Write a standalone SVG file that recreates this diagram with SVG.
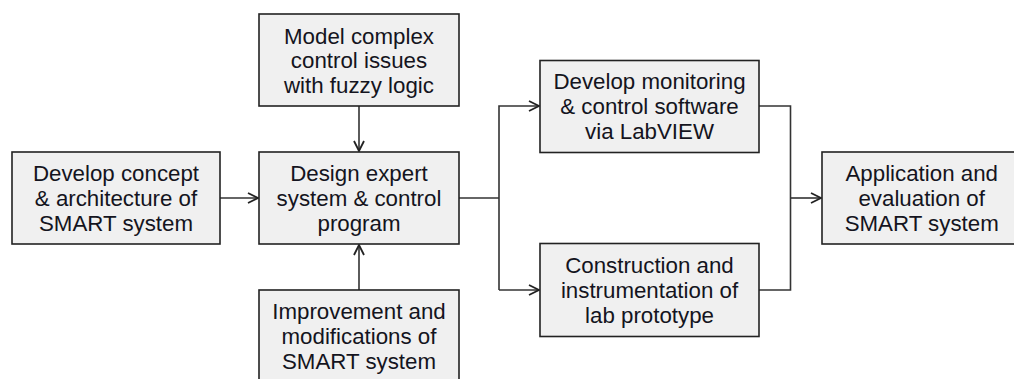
<svg xmlns="http://www.w3.org/2000/svg" width="1014" height="379" viewBox="0 0 1014 379">
  <style>
    .box { fill: #f0f0f0; stroke: #222; stroke-width: 1.6; }
    .lbl { font-family: "Liberation Sans", Arial, sans-serif; font-size: 22.3px; fill: #141420; text-anchor: middle; }
    .wire { fill: none; stroke: #333; stroke-width: 1.6; }
  </style>
  <defs>
    <marker id="arrow" viewBox="0 0 12 12" refX="11" refY="6" markerWidth="12" markerHeight="12" markerUnits="userSpaceOnUse" orient="auto">
      <path d="M1,1 L11,6 L1,11" fill="none" stroke="#222" stroke-width="1.8"/>
    </marker>
  </defs>
  <rect width="1014" height="379" fill="#ffffff"/>

  <g id="connectors">
    <path class="wire" d="M220,198 H258" marker-end="url(#arrow)"/>
    <path class="wire" d="M359,106 V151" marker-end="url(#arrow)"/>
    <path class="wire" d="M359,290 V245" marker-end="url(#arrow)"/>
    <path class="wire" d="M459,198 H499"/>
    <path class="wire" d="M499,290 V106 H539" marker-end="url(#arrow)"/>
    <path class="wire" d="M499,290 H539" marker-end="url(#arrow)"/>
    <path class="wire" d="M759,106 H790.5 V290 H759"/>
    <path class="wire" d="M790.5,198 H821" marker-end="url(#arrow)"/>
  </g>

  <g id="node-concept">
    <rect class="box" x="12" y="152" width="208" height="92"/>
    <text class="lbl" x="116" y="181">Develop concept</text>
    <text class="lbl" x="116" y="206">&amp; architecture of</text>
    <text class="lbl" x="116" y="231">SMART system</text>
  </g>

  <g id="node-fuzzy">
    <rect class="box" x="259" y="14" width="200" height="92"/>
    <text class="lbl" x="359" y="43.5">Model complex</text>
    <text class="lbl" x="359" y="68">control issues</text>
    <text class="lbl" x="359" y="92.5">with fuzzy logic</text>
  </g>

  <g id="node-design">
    <rect class="box" x="259" y="152" width="200" height="92"/>
    <text class="lbl" x="359" y="181">Design expert</text>
    <text class="lbl" x="359" y="206">system &amp; control</text>
    <text class="lbl" x="359" y="231">program</text>
  </g>

  <g id="node-improve">
    <rect class="box" x="259" y="290" width="200" height="100"/>
    <text class="lbl" x="359" y="319">Improvement and</text>
    <text class="lbl" x="359" y="344">modifications of</text>
    <text class="lbl" x="359" y="369">SMART system</text>
  </g>

  <g id="node-labview">
    <rect class="box" x="540" y="60.5" width="219" height="92"/>
    <text class="lbl" x="649.5" y="89">Develop monitoring</text>
    <text class="lbl" x="649.5" y="114">&amp; control software</text>
    <text class="lbl" x="649.5" y="139">via LabVIEW</text>
  </g>

  <g id="node-prototype">
    <rect class="box" x="540" y="243.5" width="219" height="93"/>
    <text class="lbl" x="649.5" y="273">Construction and</text>
    <text class="lbl" x="649.5" y="298">instrumentation of</text>
    <text class="lbl" x="649.5" y="323">lab prototype</text>
  </g>

  <g id="node-evaluate">
    <rect class="box" x="822" y="152" width="200" height="92"/>
    <text class="lbl" x="921.7" y="181">Application and</text>
    <text class="lbl" x="921.7" y="206">evaluation of</text>
    <text class="lbl" x="921.7" y="231">SMART system</text>
  </g>
</svg>
